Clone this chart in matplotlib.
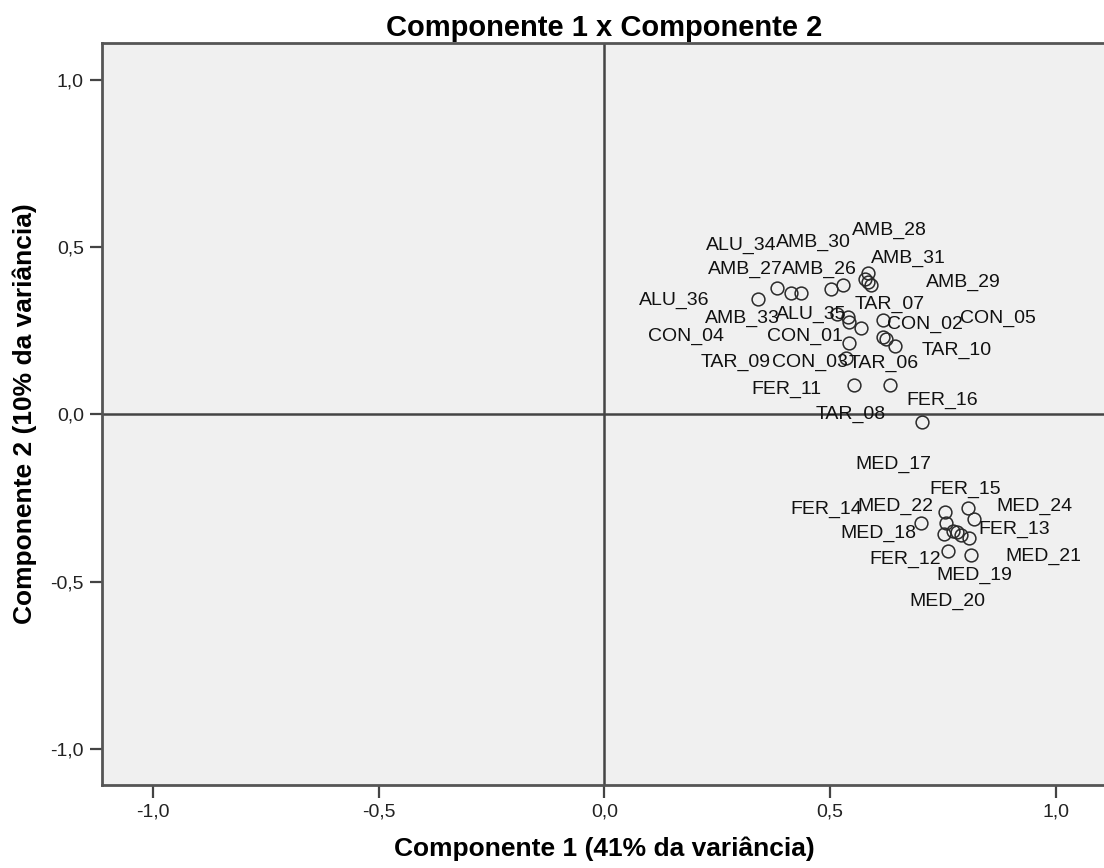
import matplotlib
matplotlib.use("Agg")
import matplotlib.pyplot as plt

plt.rcParams["font.family"] = ["Liberation Sans", "DejaVu Sans"]

# cargas dos componentes
comp1 = [0.339, 0.382, 0.413, 0.435, 0.502, 0.529, 0.583, 0.583, 0.590, 0.577,
         0.515, 0.540, 0.542, 0.568, 0.616, 0.617, 0.624, 0.643, 0.542, 0.535,
         0.553, 0.632, 0.703,
         0.701, 0.754, 0.757, 0.751, 0.771, 0.780, 0.789, 0.808, 0.805, 0.819,
         0.760, 0.811]
comp2 = [0.344, 0.377, 0.362, 0.362, 0.374, 0.386, 0.422, 0.397, 0.387, 0.405,
         0.300, 0.291, 0.277, 0.258, 0.283, 0.231, 0.226, 0.205, 0.213, 0.168,
         0.088, 0.088, -0.022,
         -0.325, -0.291, -0.325, -0.358, -0.350, -0.352, -0.360, -0.370, -0.279, -0.312,
         -0.408, -0.420]

# rótulos das variáveis e posição onde aparecem
rotulos = ["ALU_34", "AMB_30", "AMB_28", "AMB_31", "AMB_27", "AMB_26", "AMB_29",
           "ALU_36", "TAR_07", "ALU_35", "AMB_33", "CON_02", "CON_05", "CON_04",
           "CON_01", "TAR_10", "TAR_09", "CON_03", "TAR_06", "FER_11", "FER_16",
           "TAR_08", "MED_17", "FER_15", "FER_14", "MED_22", "MED_24", "MED_18",
           "FER_13", "FER_12", "MED_21", "MED_19", "MED_20"]
rot_x = [0.302, 0.463, 0.632, 0.673, 0.312, 0.476, 0.794, 0.154, 0.632, 0.458,
         0.306, 0.710, 0.872, 0.180, 0.443, 0.781, 0.291, 0.454, 0.619, 0.403,
         0.748, 0.545, 0.639, 0.800, 0.491, 0.644, 0.952, 0.606, 0.908, 0.667,
         0.973, 0.819, 0.760]
rot_y = [0.504, 0.515, 0.549, 0.467, 0.432, 0.434, 0.393, 0.340, 0.329, 0.300,
         0.288, 0.268, 0.288, 0.233, 0.233, 0.190, 0.155, 0.155, 0.151, 0.075,
         0.043, 0.001, -0.151, -0.224, -0.283, -0.276, -0.276, -0.357, -0.345, -0.433,
         -0.425, -0.482, -0.560]

ticks = [-1.0, -0.5, 0.0, 0.5, 1.0]
tick_labels = ["-1,0", "-0,5", "0,0", "0,5", "1,0"]

fig = plt.figure(figsize=(11.04, 8.68), dpi=100)
ax = fig.add_axes([0.0924, 0.0956, 0.9103, 0.8552])
ax.set_facecolor("#f0f0f0")
ax.set_xlim(-1.113, 1.113)
ax.set_ylim(-1.108, 1.111)

# linhas de referência
ax.axhline(0, color="#444444", lw=1.8, zorder=1)
ax.axvline(0, color="#444444", lw=1.8, zorder=1)

ax.plot(comp1, comp2, linestyle="none", marker="o", markersize=9.2,
        markerfacecolor="none", markeredgecolor="#2a2a2a", markeredgewidth=1.1,
        zorder=3)

for nome, x, y in zip(rotulos, rot_x, rot_y):
    ax.text(x, y, nome, fontsize=14, ha="center", va="center", color="#111111", zorder=4)

for s in ax.spines.values():
    s.set_color("#555555")
    s.set_linewidth(2)

ax.set_xticks(ticks)
ax.set_xticklabels(tick_labels)
ax.set_yticks(ticks)
ax.set_yticklabels(tick_labels)
ax.tick_params(direction="out", length=9, width=1.6, color="#444444",
               labelsize=14, pad=4, labelcolor="#222222")

ax.set_title("Componente 1 x Componente 2", fontsize=21, fontweight="bold", pad=5)
ax.set_xlabel("Componente 1 (41% da variância)", fontsize=19, fontweight="bold", labelpad=12)
ax.set_ylabel("Componente 2 (10% da variância)", fontsize=19, fontweight="bold", labelpad=10)

fig.savefig("out.png", dpi=100)
